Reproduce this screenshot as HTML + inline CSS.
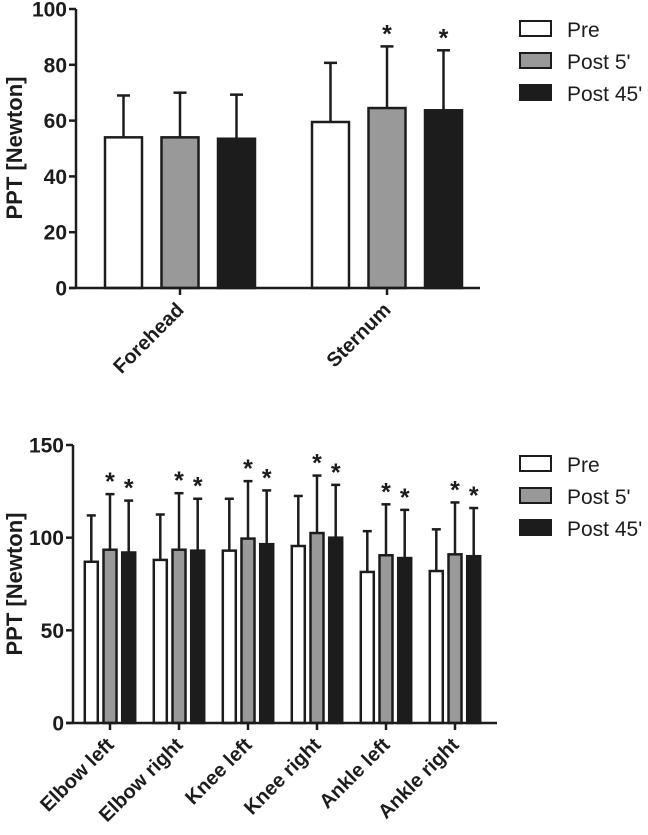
<!DOCTYPE html>
<html><head><meta charset="utf-8"><style>
html,body{margin:0;padding:0;background:#fff;}
svg{display:block;font-family:"Liberation Sans",Arial,sans-serif;}
</style></head><body>
<svg id="chart" width="648" height="835" viewBox="0 0 648 835"></svg>
<script>
// Top chart data
const topCategories = ["Forehead","Sternum"];
const topPre = [54, 59.5];
const topPost5 = [54, 64.5];
const topPost45 = [53.5, 63.7];
const topPreErr = [69, 80.7];
const topPost5Err = [70, 86.6];
const topPost45Err = [69.3, 85.2];
const topSig = [[false,false,false],[false,true,true]];
const topTicks = [0,20,40,60,80,100];

// Bottom chart data
const botCategories = ["Elbow left","Elbow right","Knee left","Knee right","Ankle left","Ankle right"];
const botPre = [87, 88, 93, 95.5, 81.5, 82];
const botPost5 = [93.5, 93.5, 99.5, 102.5, 90.5, 91];
const botPost45 = [92, 93, 96.5, 100, 89, 90];
const botPreErr = [112, 112.5, 121, 122.5, 103.5, 104.5];
const botPost5Err = [123.5, 124, 130.5, 133.5, 118, 119];
const botPost45Err = [120, 121, 125.5, 128.5, 115, 116];
const botSig = [[false,true,true],[false,true,true],[false,true,true],[false,true,true],[false,true,true],[false,true,true]];
const botTicks = [0,50,100,150];

const seriesNames = ["Pre","Post 5'","Post 45'"];
const fills = ["#ffffff","#999999","#1c1c1c"];
const NS = "http://www.w3.org/2000/svg";
const svg = document.getElementById("chart");
function mk(tag, attrs, parent){
  const e = document.createElementNS(NS, tag);
  for (const k in attrs) e.setAttribute(k, attrs[k]);
  (parent||svg).appendChild(e);
  return e;
}

function drawChart(cfg){
  const g = mk("g", {});
  
  
  const y = v => cfg.y0 - (v - 0) / cfg.ymax * (cfg.y0 - cfg.yTop);
  const cx = i => cfg.firstCenter + i * cfg.groupStep;
  const series = [cfg.pre, cfg.p5, cfg.p45];
  const errs = [cfg.preErr, cfg.p5Err, cfg.p45Err];
  cfg.cats.forEach((c, i) => {
    for (let s = 0; s < 3; s++) {
      const bc = cx(i) + (s - 1) * cfg.barStep;
      const top = y(series[s][i]), et = y(errs[s][i]);
      const eb = mk("line", {x1:bc, x2:bc, y1:top, y2:et, stroke:"#1c1c1c", "stroke-width":2.5}, g);
      
      
      const cap = mk("line", {x1:bc - cfg.capW/2, x2:bc + cfg.capW/2, y1:et, y2:et, stroke:"#1c1c1c", "stroke-width":2.5}, g);
      
      
      const r = mk("rect", {x:bc - cfg.barW/2, y:top, width:cfg.barW, height:cfg.y0 - top, fill:fills[s], stroke:"#1c1c1c", "stroke-width":2.5}, g);
      
      
      if (cfg.sig[i][s]) {
        const st = mk("text", {x:bc, y:et - 4, "text-anchor":"middle", "font-size":25, "font-weight":"bold", fill:"#1c1c1c"}, g);
        st.textContent = "*";
        
        
      }
    }
    const tk = mk("line", {x1:cx(i), x2:cx(i), y1:cfg.y0, y2:cfg.y0 + 7, stroke:"#1c1c1c", "stroke-width":2.5}, g);
    
    
    const lx = cx(i) + 5, ly = cfg.y0 + cfg.labelDy;
    const lb = mk("text", {x:lx, y:ly, "text-anchor":"end", "font-size":cfg.labelSize, "font-weight":"bold", fill:"#1c1c1c", transform:`rotate(-45 ${lx} ${ly})`}, g);
    lb.textContent = c;
    
    
  });
  const ya = mk("line", {x1:cfg.ax, x2:cfg.ax, y1:cfg.yTop, y2:cfg.y0 + 1, stroke:"#1c1c1c", "stroke-width":2.5}, g);
  
  
  const xa = mk("line", {x1:cfg.ax - 7, x2:cfg.axEnd, y1:cfg.y0, y2:cfg.y0, stroke:"#1c1c1c", "stroke-width":2.5}, g);
  
  
  cfg.ticks.forEach(t => {
    const tl = mk("line", {x1:cfg.ax - 7, x2:cfg.ax, y1:y(t), y2:y(t), stroke:"#1c1c1c", "stroke-width":2.5}, g);
    
    
    const tt = mk("text", {x:cfg.ax - 9, y:y(t) + 7.5, "text-anchor":"end", "font-size":21, "font-weight":"bold", fill:"#1c1c1c"}, g);
    tt.textContent = t;
    
    
  });
  const ttl = mk("text", {x:22, y:cfg.titleY, "text-anchor":"middle", "font-size":22, "font-weight":"bold", fill:"#1c1c1c", transform:`rotate(-90 22 ${cfg.titleY})`}, g);
  ttl.textContent = "PPT [Newton]";
  
  
  seriesNames.forEach((n, s) => {
    const ly = cfg.legY + s * 32;
    const lr = mk("rect", {x:520, y:ly, width:31, height:15, fill:fills[s], stroke:"#1c1c1c", "stroke-width":2}, g);
    
    
    const lt = mk("text", {x:567, y:ly + 16, "font-size":21, fill:"#1c1c1c"}, g);
    lt.textContent = n;
    
    
  });
}

drawChart({name:"top-chart", cats:topCategories, pre:topPre, p5:topPost5, p45:topPost45,
  preErr:topPreErr, p5Err:topPost5Err, p45Err:topPost45Err, sig:topSig, ticks:topTicks,
  ymax:100, y0:288, yTop:9, ax:76, axEnd:480, firstCenter:180, groupStep:207,
  barStep:56.5, barW:37, capW:13, labelDy:23, labelSize:20, titleY:148, legY:21});
drawChart({name:"bottom-chart", cats:botCategories, pre:botPre, p5:botPost5, p45:botPost45,
  preErr:botPreErr, p5Err:botPost5Err, p45Err:botPost45Err, sig:botSig, ticks:botTicks,
  ymax:150, y0:723, yTop:445, ax:73, axEnd:497, firstCenter:110, groupStep:69,
  barStep:18.7, barW:13, capW:9, labelDy:23, labelSize:20, titleY:584, legY:456});
</script>
</body></html>
